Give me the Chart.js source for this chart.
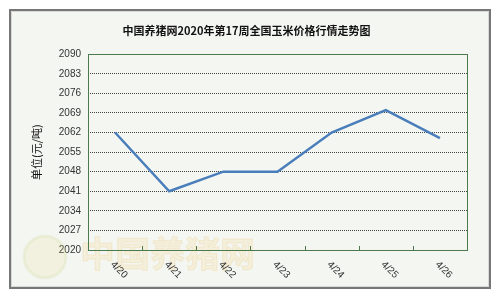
<!DOCTYPE html>
<html>
<head>
<meta charset="utf-8">
<script src="https://cdn.jsdelivr.net/npm/chart.js@4"></script>
<style>
  html, body { margin:0; padding:0; background:#fff; }
  #wrap { width:500px; height:298px; }
</style>
</head>
<body>
<div id="wrap"><canvas id="cornChart" width="500" height="298"></canvas></div>
<script>
// ===== Data =====
const days = ["4/20", "4/21", "4/22", "4/23", "4/24", "4/25", "4/26"];
const prices = [2062, 2041, 2048, 2048, 2062, 2070, 2060];
const yMin = 2020;
const yMax = 2090;
const yStep = 7;

const titleText = "中国养猪网2020年第17周全国玉米价格行情走势图";
const yTitle = "单位(元/吨)";
const markText = "中国养猪网";

// ===== Frame, plot border, watermark, x labels =====
const decor = {
  id: "decor",
  beforeDraw(chart){
    const ctx = chart.ctx;
    ctx.save();
    ctx.fillStyle = "#ffffff";
    ctx.fillRect(0, 0, chart.width, chart.height);
    ctx.fillStyle = "#f4f6f2";
    ctx.fillRect(9, 9, 482, 280);
    ctx.strokeStyle = "#777";
    ctx.lineWidth = 2;
    ctx.strokeRect(10, 10, 480, 278);
    ctx.strokeStyle = "#d8d8d8";
    ctx.lineWidth = 1;
    ctx.strokeRect(11.5, 11.5, 477, 275);
    ctx.restore();
  },
  beforeDatasetsDraw(chart){
    // faint logo + site name
    const ctx = chart.ctx;
    ctx.save();
    ctx.beginPath();
    ctx.arc(45, 257, 21, 0, Math.PI * 2);
    ctx.fillStyle = "rgba(235,215,120,0.14)";
    ctx.fill();
    ctx.lineWidth = 3;
    ctx.strokeStyle = "rgba(200,215,140,0.2)";
    ctx.stroke();
    ctx.font = "bold 35px 'Noto Sans CJK SC'";
    ctx.textBaseline = "middle";
    ctx.textAlign = "left";
    ctx.fillStyle = "rgba(242,215,130,0.2)";
    ctx.fillText(markText, 80, 254);
    ctx.lineWidth = 1;
    ctx.strokeStyle = "rgba(235,185,90,0.18)";
    ctx.strokeText(markText, 80, 254);
    ctx.restore();
  },
  afterDraw(chart){
    const ctx = chart.ctx;
    const a = chart.chartArea;
    const xs = chart.scales.x;
    ctx.save();
    // plot border
    ctx.strokeStyle = "#4d7a4d";
    ctx.lineWidth = 1;
    ctx.strokeRect(Math.round(a.left) + 0.5, Math.round(a.top) + 0.5,
                   Math.round(a.right - a.left), Math.round(a.bottom - a.top));
    // small inner tick marks between categories
    for (let i = 0; i < days.length - 1; i++) {
      const px = Math.round((xs.getPixelForValue(i) + xs.getPixelForValue(i + 1)) / 2) + 0.5;
      ctx.beginPath();
      ctx.moveTo(px, a.bottom);
      ctx.lineTo(px, a.bottom - 4);
      ctx.stroke();
    }
    // rotated category labels
    ctx.fillStyle = "#333";
    ctx.font = "10px 'Liberation Sans'";
    ctx.textAlign = "left";
    ctx.textBaseline = "middle";
    days.forEach((d, i) => {
      const px = xs.getPixelForValue(i);
      ctx.save();
      ctx.translate(px - 3, a.bottom + 13);
      ctx.rotate(Math.PI / 4);
      ctx.fillText(d, 0, 0);
      ctx.restore();
    });
    ctx.restore();
  }
};

const ctx = document.getElementById("cornChart").getContext("2d");
new Chart(ctx, {
  type: "line",
  data: {
    labels: days,
    datasets: [{
      data: prices,
      borderColor: "#4a7ebb",
      borderWidth: 2.5,
      pointRadius: 0,
      tension: 0,
      fill: false
    }]
  },
  options: {
    responsive: false,
    animation: false,
    layout: { padding: { left: 26, right: 33, top: 0, bottom: 12 } },
    plugins: {
      legend: { display: false },
      tooltip: { enabled: false },
      title: {
        display: true,
        text: titleText,
        color: "#111",
        font: { family: "'Noto Sans CJK SC'", size: 11, weight: "bold" },
        padding: { top: 24, bottom: 17 }
      }
    },
    scales: {
      x: {
        offset: true,
        grid: { display: false, offset: true },
        border: { display: false },
        ticks: { display: false },
        afterFit(scale){ scale.height = 36; }
      },
      y: {
        min: yMin,
        max: yMax,
        border: { display: false, dash: [1, 1] },
        grid: {
          drawTicks: false,
          color: (c) => (c.tick.value === yMin || c.tick.value === yMax) ? "rgba(0,0,0,0)" : "#444",
          lineWidth: 1
        },
        ticks: {
          stepSize: yStep,
          padding: 7,
          color: "#333",
          font: { family: "'Liberation Sans'", size: 10 },
          callback: (v) => String(v)
        },
        title: {
          display: true,
          text: yTitle,
          color: "#111",
          font: { family: "'Noto Sans CJK SC'", size: 11 }
        },
        afterFit(scale){ scale.width = 62; }
      }
    }
  },
  plugins: [decor]
});
</script>
</body>
</html>
